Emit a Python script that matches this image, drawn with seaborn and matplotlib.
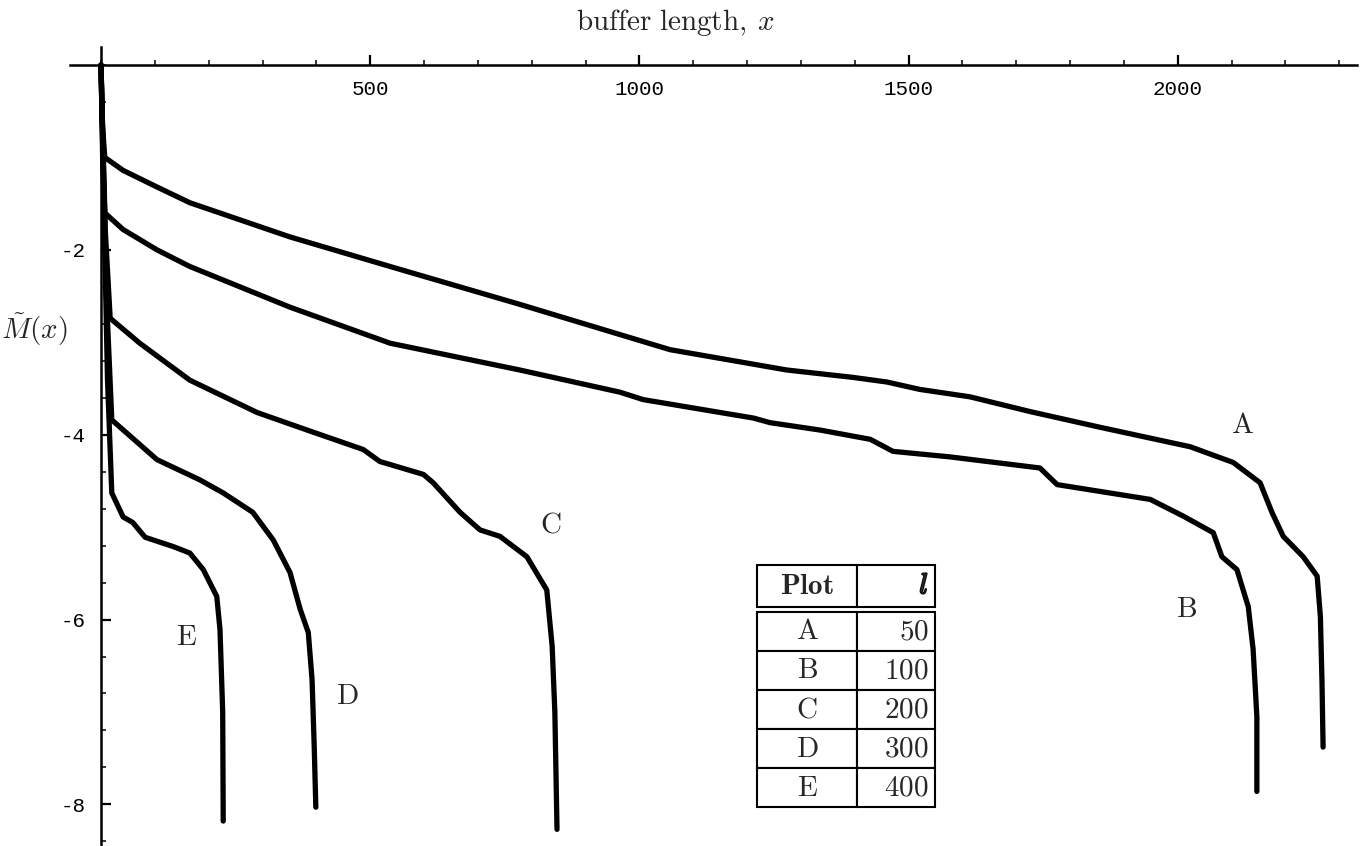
import numpy as np
import pandas as pd
import matplotlib
matplotlib.use("Agg")
import matplotlib.pyplot as plt
import matplotlib.patheffects as pe
from matplotlib.ticker import MultipleLocator
import seaborn as sns

# ---- data ----
A_x = [0, 2, 7, 41, 104, 165, 351, 537, 778, 1057, 1274, 1397, 1460, 1521, 1614, 1726, 1856,
       2023, 2103, 2153, 2175, 2196, 2233, 2259, 2265, 2268, 2270]
A_y = [0, -0.6, -1.0, -1.14, -1.32, -1.49, -1.86, -2.18, -2.59, -3.08, -3.30, -3.38, -3.43,
       -3.51, -3.59, -3.75, -3.92, -4.13, -4.30, -4.52, -4.84, -5.10, -5.32, -5.53, -5.97,
       -6.68, -7.38]
B_x = [0, 3, 7, 41, 104, 165, 351, 537, 778, 964, 1007, 1212, 1243, 1336, 1429, 1471, 1577,
       1744, 1776, 1949, 2010, 2066, 2082, 2110, 2131, 2140, 2147, 2147]
B_y = [0, -1.0, -1.60, -1.78, -2.00, -2.18, -2.62, -3.01, -3.30, -3.54, -3.62, -3.82, -3.87,
       -3.95, -4.05, -4.18, -4.24, -4.36, -4.54, -4.70, -4.88, -5.06, -5.32, -5.46, -5.86,
       -6.32, -7.05, -7.86]
C_x = [0, 8, 17, 72, 165, 290, 383, 487, 518, 599, 617, 667, 704, 741, 791, 828, 838, 843, 847]
C_y = [0, -1.8, -2.74, -3.01, -3.41, -3.76, -3.95, -4.16, -4.29, -4.43, -4.52, -4.84, -5.03,
       -5.10, -5.32, -5.68, -6.29, -7.00, -8.27]
D_x = [0, 10, 20, 104, 184, 227, 282, 320, 351, 370, 385, 392, 396, 399]
D_y = [0, -2.5, -3.84, -4.27, -4.49, -4.63, -4.84, -5.14, -5.49, -5.89, -6.14, -6.65, -7.37, -8.03]
E_x = [0, 12, 20, 41, 59, 82, 134, 165, 190, 215, 221, 226, 227]
E_y = [0, -3.4, -4.63, -4.89, -4.95, -5.11, -5.21, -5.28, -5.46, -5.75, -6.11, -7.00, -8.18]

plot_names = ["A", "B", "C", "D", "E"]
l_values = ["50", "100", "200", "300", "400"]
label_x = [2120, 2017, 836, 457, 158]
label_y = [-3.89, -5.89, -4.97, -6.83, -6.19]

x_ticks = [500, 1000, 1500, 2000]
y_ticks = [-2, -4, -6, -8]

curves = {"A": (A_x, A_y), "B": (B_x, B_y), "C": (C_x, C_y), "D": (D_x, D_y), "E": (E_x, E_y)}
frames = []
for name, (xs, ys) in curves.items():
    frames.append(pd.DataFrame({"x": xs, "y": ys, "plot": name}))
df = pd.concat(frames, ignore_index=True)

# ---- style ----
sns.set_theme(style="white")
plt.rcParams["font.family"] = ["DejaVu Sans"]
plt.rcParams["mathtext.fontset"] = "cm"
plt.rcParams["axes.unicode_minus"] = False

fig = plt.figure(figsize=(13.69, 8.46), dpi=100)
ax = fig.add_axes([69.8 / 1369, 0.0, (1357 - 69.8) / 1369, 0.945])

for name in plot_names:
    sub = df[df["plot"] == name]
    sns.lineplot(data=sub, x="x", y="y", sort=False, estimator=None, ax=ax,
                 color="black", linewidth=3.8, legend=False)

ax.set_xlim(-58, 2333)
ax.set_ylim(-8.45, 0.2)
ax.set_xlabel("")
ax.set_ylabel("")

for s in ["right", "top"]:
    ax.spines[s].set_visible(False)
ax.spines["bottom"].set_position(("data", 0))
ax.spines["left"].set_position(("data", 0))
for s in ["bottom", "left"]:
    ax.spines[s].set_color("black")
    ax.spines[s].set_linewidth(1.8)

ax.set_xticks(x_ticks)
ax.set_xticklabels([str(t) for t in x_ticks])
ax.set_yticks(y_ticks)
ax.set_yticklabels([str(t) for t in y_ticks])
ax.xaxis.set_minor_locator(MultipleLocator(100))
ax.yaxis.set_minor_locator(MultipleLocator(0.4))
ax.tick_params(axis="both", which="both", bottom=True, left=True, top=False, right=False)
ax.tick_params(axis="both", which="major", direction="in", length=7, width=1.6,
               color="black", labelsize=15, pad=11)
ax.tick_params(axis="both", which="minor", direction="in", length=3.5, width=1.1, color="black")
for lab in ax.get_xticklabels() + ax.get_yticklabels():
    lab.set_fontfamily("Liberation Mono")
    lab.set_color("black")

# axis titles
ax.text(1066, 0.46, r"$\mathrm{buffer\ length,}\:x$", fontsize=21, ha="center", va="center",
        clip_on=False)
ax.text(-123, -2.86, r"$\tilde{M}(x)$", fontsize=21, ha="center", va="center", clip_on=False)

# curve labels
for name, lx, ly in zip(plot_names, label_x, label_y):
    ax.text(lx, ly, r"$\mathrm{%s}$" % name, fontsize=21, ha="center", va="center")

# ---- table ----
def fx(px):
    return (px - 69.8) / (1357 - 69.8)

def fy(py):
    return (846.6 - py) / (846.6 - 46.5)

tl, tm, tr = 757, 857, 935
hdr = ax.table(cellText=[[r"$\mathbf{Plot}$", r"$l$"]],
               bbox=[fx(tl), fy(607), fx(tr) - fx(tl), fy(565) - fy(607)],
               colWidths=[tm - tl, tr - tm], cellLoc="center")
body = ax.table(cellText=[[r"$\mathrm{%s}$" % n, r"$\mathrm{%s}$" % v] for n, v in zip(plot_names, l_values)],
                bbox=[fx(tl), fy(808), fx(tr) - fx(tl), fy(612) - fy(808)],
                colWidths=[tm - tl, tr - tm], cellLoc="center")
for t in (hdr, body):
    t.auto_set_font_size(False)
    for (r, c), cell in t.get_celld().items():
        cell.set_edgecolor("black")
        cell.set_linewidth(1.5)
        cell.set_facecolor("white")
        txt = cell.get_text()
        txt.set_fontsize(21)
        if c == 1:
            cell._loc = "right"
            txt.set_ha("right")
            cell.PAD = 0.08
hdr.get_celld()[(0, 1)].get_text().set_path_effects(
    [pe.withStroke(linewidth=1.2, foreground="black")])

fig.savefig("out.png", dpi=100, facecolor="white")
